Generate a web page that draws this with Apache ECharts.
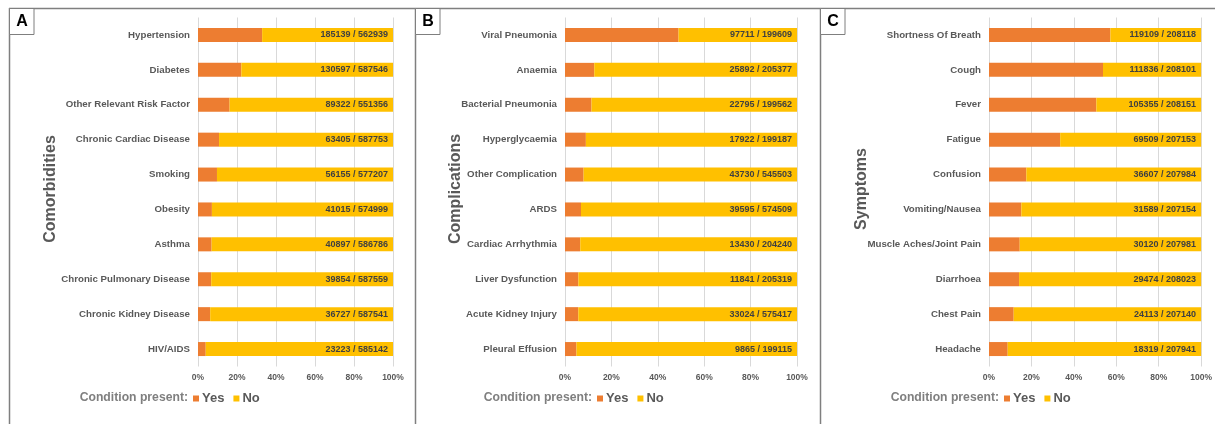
<!DOCTYPE html>
<html>
<head>
<meta charset="utf-8">
<script src="https://cdn.jsdelivr.net/npm/echarts@6/dist/echarts.min.js"></script>
<style>
  html, body { margin: 0; padding: 0; background: #fff; }
  #chart { width: 1215px; height: 424px; }
</style>
</head>
<body>
<div id="chart"></div>
<script>
// panel A - comorbidities
var comorbNames = ['Hypertension', 'Diabetes', 'Other Relevant Risk Factor', 'Chronic Cardiac Disease',
  'Smoking', 'Obesity', 'Asthma', 'Chronic Pulmonary Disease', 'Chronic Kidney Disease', 'HIV/AIDS'];
var comorbYes = [185139, 130597, 89322, 63405, 56155, 41015, 40897, 39854, 36727, 23223];
var comorbTotal = [562939, 587546, 551356, 587753, 577207, 574999, 586786, 587559, 587541, 585142];

// panel B - complications
var complNames = ['Viral Pneumonia', 'Anaemia', 'Bacterial Pneumonia', 'Hyperglycaemia', 'Other Complication',
  'ARDS', 'Cardiac Arrhythmia', 'Liver Dysfunction', 'Acute Kidney Injury', 'Pleural Effusion'];
var complYes = [97711, 25892, 22795, 17922, 43730, 39595, 13430, 11841, 33024, 9865];
var complTotal = [199609, 205377, 199562, 199187, 545503, 574509, 204240, 205319, 575417, 199115];

// panel C - symptoms
var symptNames = ['Shortness Of Breath', 'Cough', 'Fever', 'Fatigue', 'Confusion', 'Vomiting/Nausea',
  'Muscle Aches/Joint Pain', 'Diarrhoea', 'Chest Pain', 'Headache'];
var symptYes = [119109, 111836, 105355, 69509, 36607, 31589, 30120, 29474, 24113, 18319];
var symptTotal = [208118, 208101, 208151, 207153, 207984, 207154, 207981, 208023, 207140, 207941];

var xTicks = [0, 20, 40, 60, 80, 100];

var ORANGE = '#ED7D31';
var YELLOW = '#FFC000';
var GREY = '#595959';
var FONT = 'Liberation Sans';

var panels = [
  { key: 'A', title: 'Comorbidities', names: comorbNames, yes: comorbYes, total: comorbTotal,
    left: 198, width: 195, frameX: 9.5, titleX: 51, legendX: 193 },
  { key: 'B', title: 'Complications', names: complNames, yes: complYes, total: complTotal,
    left: 565, width: 232, frameX: 415.5, titleX: 456, legendX: 597 },
  { key: 'C', title: 'Symptoms', names: symptNames, yes: symptYes, total: symptTotal,
    left: 989, width: 216, frameX: 820.5, titleX: 862, legendX: 1004 }
];

var grids = [], xAxes = [], yAxes = [], series = [], legends = [], graphics = [];

graphics.push({
  type: 'line', silent: true,
  shape: { x1: 9, y1: 8.5, x2: 1215, y2: 8.5 },
  style: { stroke: '#7f7f7f', lineWidth: 1.5 }
});

panels.forEach(function (p, i) {
  grids.push({ left: p.left, top: 17.5, width: p.width, height: 349 });

  xAxes.push({
    gridIndex: i, type: 'value', min: xTicks[0], max: xTicks[xTicks.length - 1], interval: 20,
    axisLine: { show: false }, axisTick: { show: false },
    splitLine: { lineStyle: { color: '#d9d9d9', width: 1 } },
    axisLabel: { formatter: '{value}%', color: GREY, fontSize: 8.5, fontWeight: 'bold',
      fontFamily: FONT, margin: 7 }
  });

  yAxes.push({
    gridIndex: i, type: 'category', data: p.names, inverse: true,
    axisLine: { show: false }, axisTick: { show: false },
    axisLabel: { color: GREY, fontSize: 9.7, fontWeight: 'bold', fontFamily: FONT, margin: 8 }
  });

  var yesPct = p.yes.map(function (v, k) { return v / p.total[k] * 100; });
  var noPct = yesPct.map(function (v) { return 100 - v; });

  series.push({
    name: 'Yes', type: 'bar', stack: 'p' + i, xAxisIndex: i, yAxisIndex: i,
    data: yesPct, barWidth: 14, itemStyle: { color: ORANGE }
  });
  series.push({
    name: 'No', type: 'bar', stack: 'p' + i, xAxisIndex: i, yAxisIndex: i,
    data: noPct, barWidth: 14, itemStyle: { color: YELLOW },
    label: {
      show: true, position: 'insideRight', distance: 5,
      color: '#404040', fontSize: 9, fontWeight: 'bold', fontFamily: FONT,
      formatter: function (d) { return p.yes[d.dataIndex] + ' / ' + p.total[d.dataIndex]; }
    }
  });

  legends.push({
    data: ['Yes', 'No'], left: p.legendX, top: 392, padding: 0, icon: 'rect',
    itemWidth: 6, itemHeight: 6, itemGap: 9, selectedMode: false,
    textStyle: { color: GREY, fontSize: 13, fontWeight: 'bold', fontFamily: FONT, padding: [0, 0, 0, -2] }
  });

  // panel frame
  graphics.push({
    type: 'line', silent: true,
    shape: { x1: p.frameX, y1: 8, x2: p.frameX, y2: 424 },
    style: { stroke: '#7f7f7f', lineWidth: 1.5 }
  });
  graphics.push({
    type: 'rect', silent: true,
    shape: { x: p.frameX, y: 8.5, width: 24.5, height: 26 },
    style: { fill: '#fff', stroke: '#7f7f7f', lineWidth: 1 }
  });
  graphics.push({
    type: 'text', silent: true, x: p.frameX + 12.5, y: 22,
    style: { text: p.key, fill: '#000', font: 'bold 16px ' + FONT, align: 'center', verticalAlign: 'middle' }
  });
  // axis title
  graphics.push({
    type: 'text', silent: true, x: p.titleX, y: 189, rotation: Math.PI / 2,
    style: { text: p.title, fill: GREY, font: 'bold 16px ' + FONT, align: 'center', verticalAlign: 'middle' }
  });
  // legend caption
  graphics.push({
    type: 'text', silent: true, x: p.legendX - 5, y: 398,
    style: { text: 'Condition present:', fill: '#7f7f7f', font: 'bold 12.2px ' + FONT, align: 'right', verticalAlign: 'middle' }
  });
});

var chart = echarts.init(document.getElementById('chart'), null, { renderer: 'canvas' });
chart.setOption({
  animation: false,
  backgroundColor: '#fff',
  grid: grids,
  xAxis: xAxes,
  yAxis: yAxes,
  legend: legends,
  series: series,
  graphic: graphics
});
</script>
</body>
</html>
